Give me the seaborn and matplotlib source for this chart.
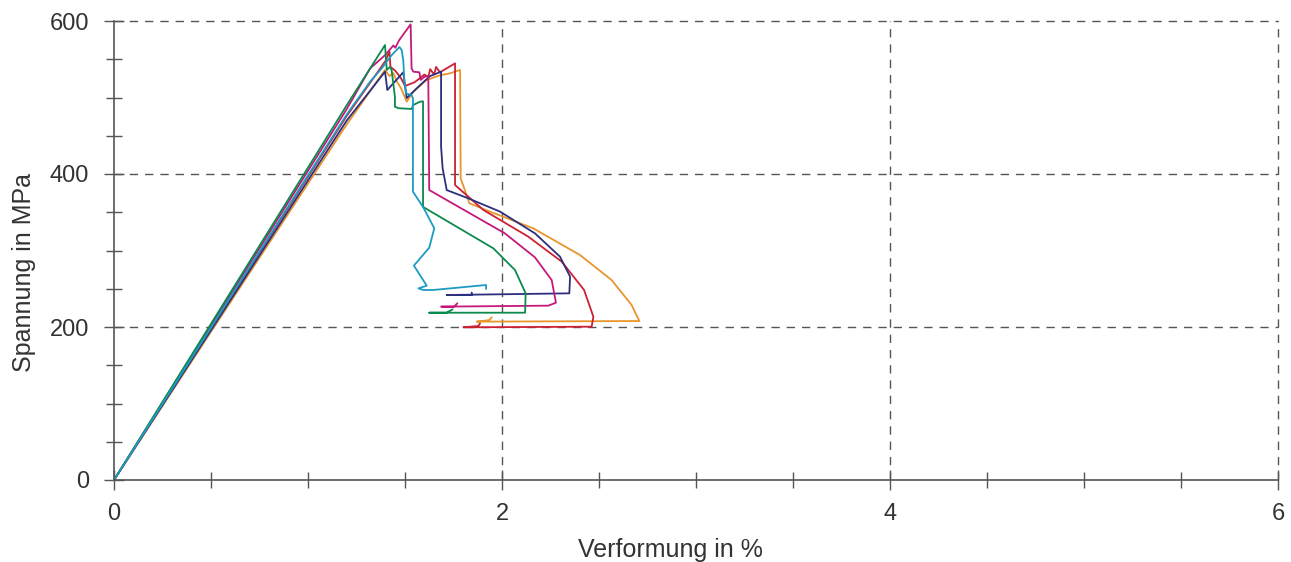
import matplotlib
matplotlib.use("Agg")
import matplotlib.pyplot as plt
import pandas as pd
import seaborn as sns
from matplotlib.ticker import MultipleLocator

# ---- data (strain in %, stress in MPa) ----
green_x = [0, 1.2, 1.397, 1.406, 1.423, 1.431, 1.448, 1.448, 1.466, 1.535, 1.541, 1.577, 1.593, 1.593,
           1.955, 2.067, 2.122, 2.119, 1.625, 1.714, 1.745]
green_y = [0, 490, 568.6, 536, 540, 536, 501, 488, 486, 485, 490, 494.5, 495, 357,
           302.9, 274.5, 244, 218.7, 218.7, 218.7, 223]

cyan_x = [0, 1.2, 1.32, 1.38, 1.43, 1.471, 1.483, 1.491, 1.497, 1.505, 1.534, 1.541, 1.541, 1.594, 1.651,
          1.625, 1.546, 1.612, 1.569, 1.594, 1.646, 1.918, 1.918]
cyan_y = [0, 478, 520.7, 538, 555, 566, 562, 549, 520.7, 505.5, 503, 499, 377, 356.4, 329,
          303.7, 280.2, 254, 250.5, 248.4, 248.4, 254.9, 249.7]

magenta_x = [0, 1.2, 1.32, 1.40, 1.44, 1.45, 1.47, 1.529, 1.534, 1.543, 1.574, 1.581, 1.60, 1.620, 1.625,
             2.015, 2.170, 2.256, 2.278, 2.239, 1.686, 1.753, 1.770]
magenta_y = [0, 485, 538, 556, 568, 565, 575, 595.6, 538, 533.7, 533, 523, 527, 528, 379,
             322.4, 291, 261.4, 231.8, 227.9, 226.6, 226.6, 231]

navy_x = [0, 1.2, 1.397, 1.409, 1.491, 1.509, 1.577, 1.629, 1.686, 1.686, 1.694, 1.715, 1.826, 1.990,
          2.170, 2.299, 2.351, 2.347, 1.715, 1.844, 1.844]
navy_y = [0, 470, 533.7, 509.8, 533, 499.3, 516, 528, 533.7, 435.7, 407.4, 379, 368.2, 350.8,
          322.4, 291.9, 265.8, 244, 241.8, 241.8, 245]

red_x = [0, 1.2, 1.40, 1.42, 1.425, 1.45, 1.48, 1.50, 1.55, 1.60, 1.62, 1.63, 1.65, 1.66, 1.68, 1.758, 1.758,
         1.904, 2.136, 2.308, 2.423, 2.471, 2.462, 1.801, 1.878, 1.887]
red_y = [0, 476, 548, 560, 540, 535, 525, 515, 520, 530, 527, 537, 530, 540, 533, 544.6, 385.6,
         353, 318, 285.4, 248.4, 213.5, 200.4, 199.6, 201.3, 204.8]

orange_x = [0, 1.2, 1.397, 1.42, 1.44, 1.46, 1.48, 1.509, 1.543, 1.612, 1.680, 1.732, 1.784, 1.787,
            1.832, 1.938, 2.161, 2.402, 2.565, 2.668, 2.708, 1.870, 1.934, 1.947]
orange_y = [0, 465, 536, 528, 532, 520, 512, 494.6, 507.6, 523, 529, 531.6, 536, 394.4,
            361.7, 350.8, 329, 294.1, 261.4, 228.8, 207.8, 207, 209, 212.7]

series = {
    "orange": (orange_x, orange_y),
    "red": (red_x, red_y),
    "navy": (navy_x, navy_y),
    "magenta": (magenta_x, magenta_y),
    "green": (green_x, green_y),
    "cyan": (cyan_x, cyan_y),
}
palette = {
    "orange": "#e8952c",
    "red": "#cc2033",
    "navy": "#2d2f7f",
    "magenta": "#c5187a",
    "green": "#0a8a4c",
    "cyan": "#1d9cc2",
}

rows = []
for name, (xs, ys) in series.items():
    for i, (xv, yv) in enumerate(zip(xs, ys)):
        rows.append({"probe": name, "order": i, "x": xv, "y": yv})
df = pd.DataFrame(rows)

sns.set_theme(style="white")
plt.rcParams["font.family"] = ["Liberation Sans", "DejaVu Sans"]

fig = plt.figure(figsize=(12.91, 5.62), dpi=100)
ax = fig.add_axes([114 / 1291, 82 / 562, 1164 / 1291, 459 / 562])

sns.lineplot(data=df, x="x", y="y", hue="probe", palette=palette, sort=False,
             estimator=None, linewidth=1.3, legend=False, ax=ax)

ax.set_xlim(0, 6)
ax.set_ylim(0, 600)
ax.xaxis.set_major_locator(MultipleLocator(2))
ax.xaxis.set_minor_locator(MultipleLocator(0.5))
ax.yaxis.set_major_locator(MultipleLocator(200))
ax.yaxis.set_minor_locator(MultipleLocator(50))

ax.grid(True, which="major", linestyle=(0, (6, 5)), color="#555555", linewidth=1.0)
ax.set_axisbelow(True)
for axis in (ax.xaxis, ax.yaxis):
    for loc, gl in zip(axis.get_majorticklocs(), axis.get_gridlines()):
        gl.set_clip_on(False)
        if abs(loc) < 1e-9:
            gl.set_visible(False)

ax.tick_params(which="both", bottom=True, left=True, top=False, right=False)
ax.tick_params(which="major", direction="inout", length=14, width=1, color="#555555",
               labelsize=17, labelcolor="#333333")
ax.tick_params(axis="y", which="major", pad=11)
ax.tick_params(axis="x", which="major", pad=9.5)
ax.tick_params(which="minor", direction="inout", length=11, width=1, color="#555555")

for s in ["top", "right"]:
    ax.spines[s].set_visible(False)
for s in ["left", "bottom"]:
    ax.spines[s].set_color("#555555")
    ax.spines[s].set_linewidth(1.2)

ax.set_xlabel("Verformung in %", fontsize=18, color="#333333")
ax.set_ylabel("Spannung in MPa", fontsize=18, color="#333333")
ax.xaxis.set_label_coords(0.478, -0.126)
ax.yaxis.set_label_coords(-0.067, 0.451)

fig.savefig("out.png", dpi=100)
